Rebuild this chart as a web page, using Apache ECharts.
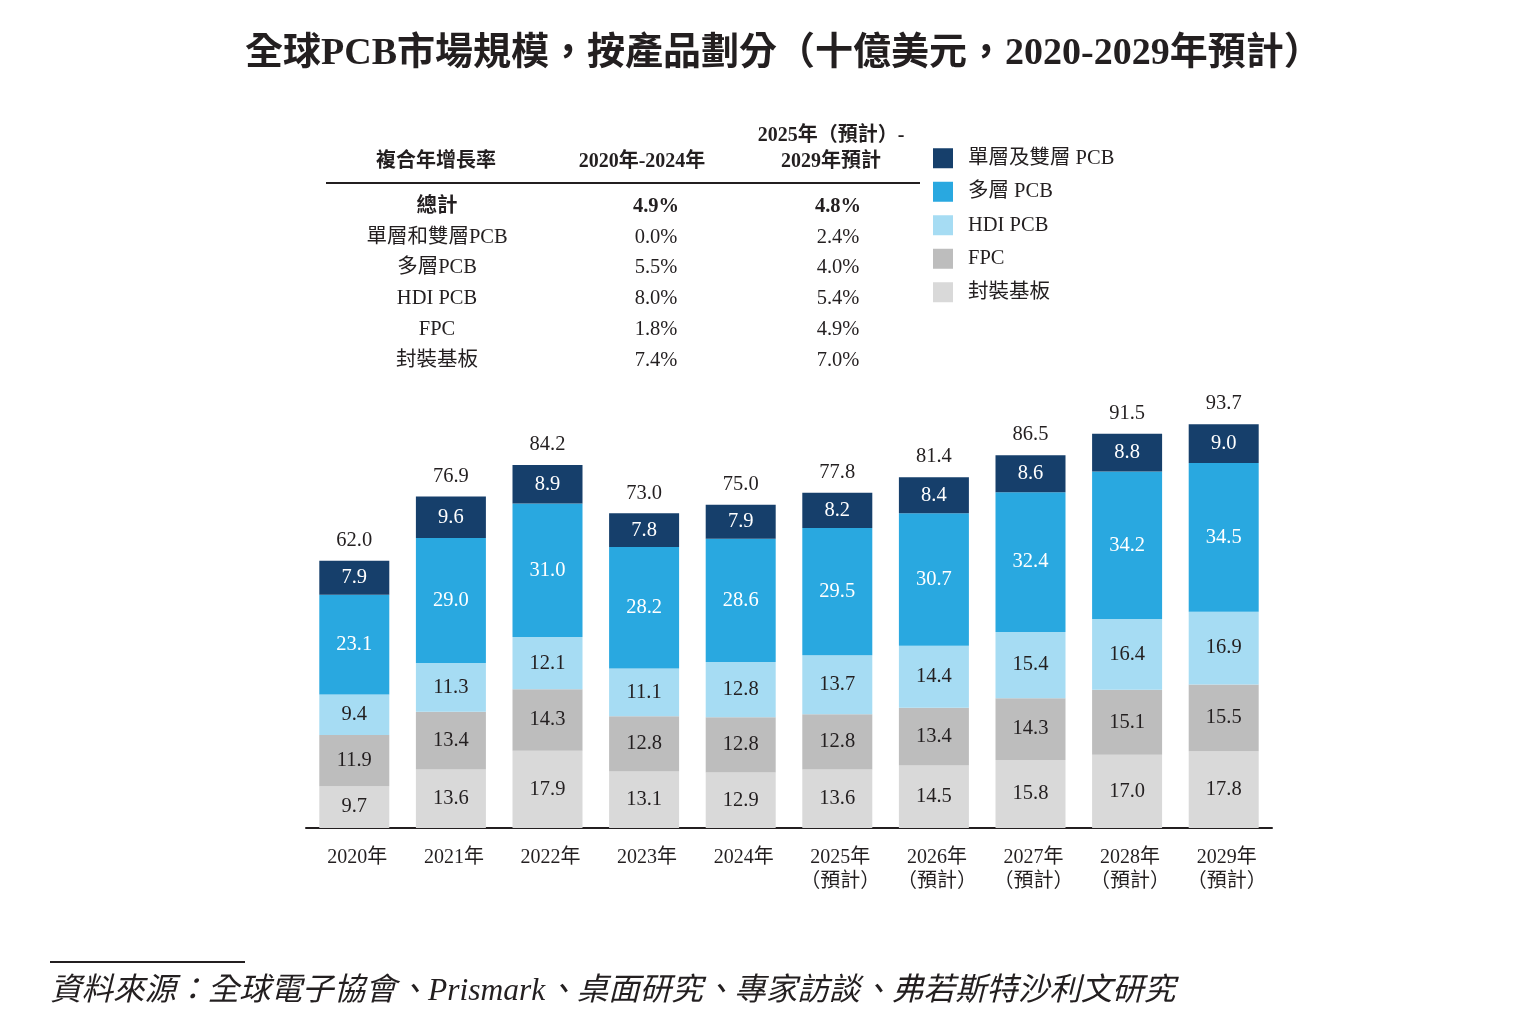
<!DOCTYPE html>
<html>
<head>
<meta charset="utf-8">
<script src="https://cdn.jsdelivr.net/npm/echarts@6/dist/echarts.min.js"></script>
<style>
html,body{margin:0;padding:0;background:#fff;}
#c{width:1529px;height:1034px;}
</style>
</head>
<body>
<div id="c"></div>
<script>
// ---- data ----
const categories = ["2020年","2021年","2022年","2023年","2024年","2025年\n（預計）","2026年\n（預計）","2027年\n（預計）","2028年\n（預計）","2029年\n（預計）"];
const substrate = [9.7,13.6,17.9,13.1,12.9,13.6,14.5,15.8,17.0,17.8];   // 封裝基板
const fpc       = [11.9,13.4,14.3,12.8,12.8,12.8,13.4,14.3,15.1,15.5];  // FPC
const hdi       = [9.4,11.3,12.1,11.1,12.8,13.7,14.4,15.4,16.4,16.9];   // HDI PCB
const multi     = [23.1,29.0,31.0,28.2,28.6,29.5,30.7,32.4,34.2,34.5];  // 多層 PCB
const single    = [7.9,9.6,8.9,7.8,7.9,8.2,8.4,8.6,8.8,9.0];            // 單層及雙層 PCB
const totals    = [62.0,76.9,84.2,73.0,75.0,77.8,81.4,86.5,91.5,93.7];

const seriesNames = ["封裝基板","FPC","HDI PCB","多層 PCB","單層及雙層 PCB"];
const legendOrder = ["單層及雙層 PCB","多層 PCB","HDI PCB","FPC","封裝基板"];

// CAGR table
const tableHeader = ["複合年增長率","2020年-2024年","2025年（預計）-","2029年預計"];
const tableRowNames = ["總計","單層和雙層PCB","多層PCB","HDI PCB","FPC","封裝基板"];
const cagr2020_2024 = ["4.9%","0.0%","5.5%","8.0%","1.8%","7.4%"];
const cagr2025_2029 = ["4.8%","2.4%","4.0%","5.4%","4.9%","7.0%"];

const titleText = "全球PCB市場規模，按產品劃分（十億美元，2020-2029年預計）";
const sourceText = "資料來源：全球電子協會、Prismark、桌面研究、專家訪談、弗若斯特沙利文研究";

// ---- styles ----
const FONT = '"Liberation Serif","Times New Roman","Noto Sans CJK TC",serif';
const TXT = '#231f20';
const colors = {"封裝基板":"#d9d9d9","FPC":"#bdbdbd","HDI PCB":"#a6dcf3","多層 PCB":"#29a8e0","單層及雙層 PCB":"#163f6b"};
const labelColors = {"封裝基板":TXT,"FPC":TXT,"HDI PCB":TXT,"多層 PCB":"#ffffff","單層及雙層 PCB":"#ffffff"};
const dataBy = {"封裝基板":substrate,"FPC":fpc,"HDI PCB":hdi,"多層 PCB":multi,"單層及雙層 PCB":single};

const chart = echarts.init(document.getElementById('c'));

const series = seriesNames.map(n => ({
  name: n, type: 'bar', stack: 'total', barWidth: 70, data: dataBy[n],
  itemStyle: {color: colors[n]},
  label: {show: true, position: 'inside', color: labelColors[n], fontFamily: FONT, fontSize: 20.5,
          formatter: p => Number(p.value).toFixed(1)}
}));
series.push({
  name: 'total', type: 'bar', barWidth: 70, barGap: '-100%', data: totals, z: 1,
  itemStyle: {color: 'rgba(0,0,0,0)'}, silent: true,
  label: {show: true, position: 'top', distance: 10, color: TXT, fontFamily: FONT, fontSize: 20.5,
          formatter: p => Number(p.value).toFixed(1)}
});

// table graphics
const g = [];
const colX = [437, 656, 838];
const hf = 'bold 20px ' + FONT;
g.push({type:'text', x: 436, y: 162, style:{text: tableHeader[0], font: hf, fill: TXT, align:'center', verticalAlign:'middle'}});
g.push({type:'text', x: 642, y: 162, style:{text: tableHeader[1], font: hf, fill: TXT, align:'center', verticalAlign:'middle'}});
g.push({type:'text', x: 831, y: 136, style:{text: tableHeader[2], font: hf, fill: TXT, align:'center', verticalAlign:'middle'}});
g.push({type:'text', x: 831, y: 162, style:{text: tableHeader[3], font: hf, fill: TXT, align:'center', verticalAlign:'middle'}});
g.push({type:'line', shape:{x1:326, y1:183, x2:920, y2:183}, style:{stroke:'#231f20', lineWidth:2}});
const rowY = [207,238,268,299,330,361];
tableRowNames.forEach((n,i) => {
  const f = (i === 0 ? 'bold ' : '') + '20.5px ' + FONT;
  g.push({type:'text', x: colX[0], y: rowY[i], style:{text: n, font: f, fill: TXT, align:'center', verticalAlign:'middle'}});
  g.push({type:'text', x: colX[1], y: rowY[i], style:{text: cagr2020_2024[i], font: f, fill: TXT, align:'center', verticalAlign:'middle'}});
  g.push({type:'text', x: colX[2], y: rowY[i], style:{text: cagr2025_2029[i], font: f, fill: TXT, align:'center', verticalAlign:'middle'}});
});
// source
g.push({type:'line', shape:{x1:50, y1:962, x2:245, y2:962}, style:{stroke:'#231f20', lineWidth:2}});
g.push({type:'text', x: 50, y: 992, style:{text: sourceText, font: 'italic 31.5px ' + FONT, fill: TXT, verticalAlign:'middle'}});

chart.setOption({
  animation: false,
  backgroundColor: '#ffffff',
  title: {text: titleText, left: 245, top: 35, padding: 0,
          textStyle: {fontFamily: FONT, fontWeight: 'bold', fontSize: 38, color: TXT}},
  legend: {data: legendOrder, orient: 'vertical', left: 933, top: 148, padding: 0, itemWidth: 20, itemHeight: 20, itemGap: 13,
           icon: 'rect', textStyle: {fontFamily: FONT, fontSize: 20.5, color: TXT, padding: [0,0,0,10]}},
  grid: {left: 306, right: 257, top: 397, bottom: 206},
  xAxis: {type: 'category', data: categories,
          axisLine: {lineStyle: {color: '#231f20', width: 2}}, axisTick: {show: false},
          axisLabel: {fontFamily: FONT, fontSize: 20, color: TXT, margin: 18, lineHeight: 24, interval: 0, padding: [0,0,0,6]}},
  yAxis: {type: 'value', min: 0, max: 100, show: false, splitLine: {show: false}},
  series: series,
  graphic: g
});
</script>
</body>
</html>
